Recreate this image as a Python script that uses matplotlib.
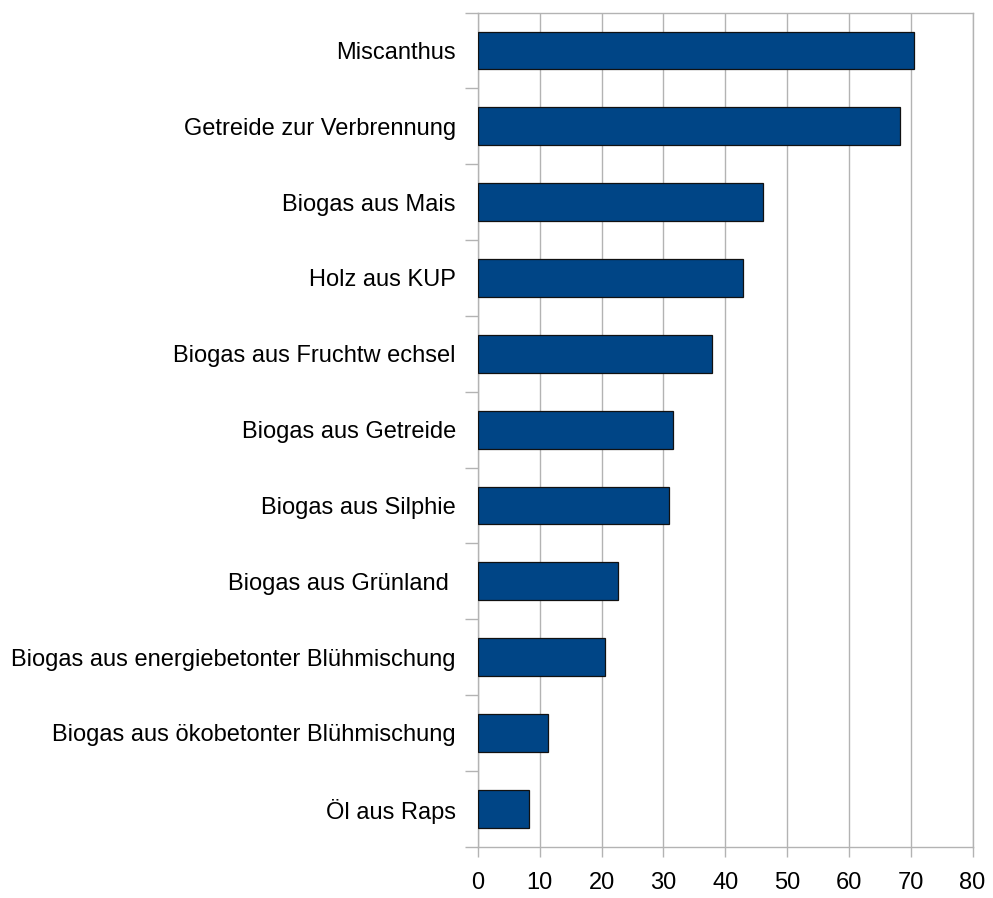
import matplotlib
matplotlib.use("Agg")
import matplotlib.pyplot as plt
import numpy as np

categories = [
    "Miscanthus",
    "Getreide zur Verbrennung",
    "Biogas aus Mais",
    "Holz aus KUP",
    "Biogas aus Fruchtw echsel",
    "Biogas aus Getreide",
    "Biogas aus Silphie",
    "Biogas aus Grünland ",
    "Biogas aus energiebetonter Blühmischung",
    "Biogas aus ökobetonter Blühmischung",
    "Öl aus Raps",
]
values = [70.5, 68.3, 46.1, 42.8, 37.9, 31.6, 30.9, 22.7, 20.6, 11.4, 8.2]
x_ticks = [0, 10, 20, 30, 40, 50, 60, 70, 80]

plt.rcParams["font.family"] = ["Liberation Sans", "DejaVu Sans"]

fig = plt.figure(figsize=(9.93, 8.98), dpi=100)
ax = fig.add_axes([0.4814, 0.0571, 0.9794 - 0.4814, 0.986 - 0.0571])

n = len(categories)
pos = np.arange(n)
ax.barh(pos, values, height=0.5, color="#004586", edgecolor="#111111",
        linewidth=0.9, zorder=3)

grey = "#b3b3b3"
ax.set_xlim(0, 80)
ax.set_ylim(n - 0.5, -0.5)
ax.set_xticks(x_ticks)
ax.set_xticklabels([str(t) for t in x_ticks], fontsize=17)
ax.xaxis.grid(True, color=grey, linewidth=1.0, zorder=0)
ax.tick_params(axis="x", length=7.5, width=1.0, color=grey, pad=11)

# category separators as major ticks, names on minor ticks at bar centres
ax.set_yticks(np.arange(n + 1) - 0.5)
ax.set_yticklabels([])
ax.set_yticks(pos, minor=True)
ax.set_yticklabels(categories, minor=True, fontsize=17)
ax.tick_params(axis="y", which="major", length=9.5, width=1.0, color=grey)
ax.tick_params(axis="y", which="minor", length=0, pad=16)

for s in ax.spines.values():
    s.set_color(grey)
    s.set_linewidth(1.0)

fig.savefig("out.png", dpi=100)
